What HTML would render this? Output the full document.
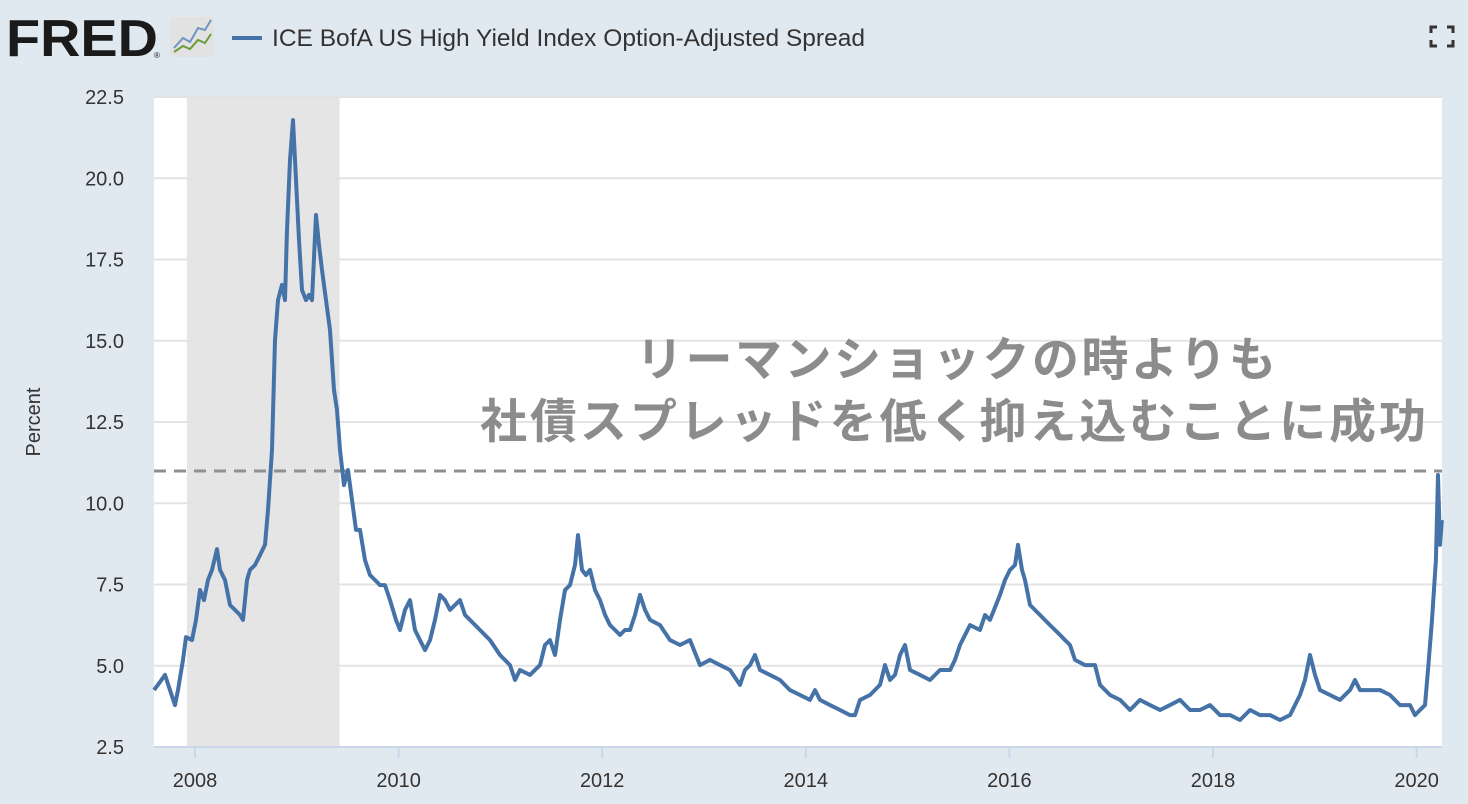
<!DOCTYPE html>
<html><head><meta charset="utf-8">
<style>
body{margin:0;width:1468px;height:804px;background:#e1e9f0;overflow:hidden;font-family:"Liberation Sans","Noto Sans CJK JP",sans-serif;}
svg{position:absolute;left:0;top:0}
</style></head>
<body>
<svg width="1468" height="804">
  <g>
    <text x="6" y="56" font-family="Liberation Sans, sans-serif" font-weight="bold" font-size="52" fill="#1a1a1a" textLength="152" lengthAdjust="spacingAndGlyphs">FRED</text>
    <text x="154" y="58" font-size="8" fill="#1a1a1a">®</text>
    <rect x="170" y="17" width="44" height="40" rx="4" fill="#e2e2e2"/>
    <polyline points="174,48 183,38 190,42 198,28 205,30 211,20" fill="none" stroke="#6d95c0" stroke-width="2"/>
    <polyline points="174,52 183,46 190,49 198,40 205,43 211,34" fill="none" stroke="#6a9a3a" stroke-width="2"/>
  </g>
  <g>
    <line x1="232" y1="38" x2="262" y2="38" stroke="#4572a7" stroke-width="4"/>
    <text x="272" y="46" font-size="24" fill="#333" textLength="593" lengthAdjust="spacingAndGlyphs">ICE BofA US High Yield Index Option-Adjusted Spread</text>
  </g>
  <g stroke="#333" stroke-width="3" fill="none">
    <polyline points="1431,33 1431,27 1437,27"/><polyline points="1447,27 1453,27 1453,33"/>
    <polyline points="1431,40 1431,46 1437,46"/><polyline points="1447,46 1453,46 1453,40"/>
  </g>
  <rect x="154" y="96" width="1288" height="651" fill="#fff"/>
  <g id="shade"></g>
  <g id="grid"></g>
  <g id="yticks"></g>
  <g id="xticks"></g>
  <text x="40" y="422" font-size="20" fill="#333" text-anchor="middle" transform="rotate(-90 40 422)">Percent</text>
  <line x1="154" y1="471" x2="1442" y2="471" stroke="#8f8f8f" stroke-width="3" stroke-dasharray="12,8"/>
  <path id="series" fill="none" stroke="#4572a7" stroke-width="4" stroke-linejoin="round"/>
  <g font-weight="bold" fill="#8c8c8c" font-size="47">
    <text x="636" y="376" textLength="640" lengthAdjust="spacing">リーマンショックの時よりも</text>
    <text x="480" y="438" textLength="946" lengthAdjust="spacing">社債スプレッドを低く抑え込むことに成功</text>
  </g>
</svg>
<script>
const years=[2007.597,2007.656,2007.705,2007.754,2007.804,2007.833,2007.882,2007.912,2007.971,2008.01,2008.049,2008.088,2008.128,2008.167,2008.216,2008.246,2008.295,2008.344,2008.393,2008.442,2008.472,2008.511,2008.540,2008.589,2008.639,2008.688,2008.717,2008.756,2008.786,2008.815,2008.855,2008.884,2008.904,2008.933,2008.963,2008.992,2009.022,2009.051,2009.090,2009.120,2009.149,2009.189,2009.218,2009.248,2009.287,2009.326,2009.365,2009.395,2009.424,2009.464,2009.503,2009.542,2009.582,2009.621,2009.670,2009.719,2009.768,2009.817,2009.866,2009.916,2009.974,2010.014,2010.063,2010.112,2010.161,2010.210,2010.259,2010.308,2010.358,2010.407,2010.456,2010.505,2010.554,2010.603,2010.652,2010.701,2010.800,2010.898,2010.996,2011.094,2011.143,2011.193,2011.291,2011.389,2011.438,2011.487,2011.536,2011.585,2011.635,2011.684,2011.733,2011.762,2011.802,2011.841,2011.880,2011.929,2011.978,2012.028,2012.077,2012.126,2012.175,2012.224,2012.273,2012.322,2012.371,2012.420,2012.470,2012.568,2012.666,2012.764,2012.862,2012.961,2013.059,2013.157,2013.255,2013.354,2013.403,2013.452,2013.501,2013.550,2013.648,2013.747,2013.845,2013.943,2014.041,2014.090,2014.139,2014.238,2014.336,2014.434,2014.483,2014.532,2014.631,2014.729,2014.778,2014.827,2014.876,2014.925,2014.974,2015.024,2015.122,2015.220,2015.318,2015.417,2015.466,2015.515,2015.613,2015.711,2015.760,2015.809,2015.908,2015.957,2016.006,2016.055,2016.084,2016.124,2016.153,2016.202,2016.301,2016.399,2016.448,2016.497,2016.546,2016.595,2016.644,2016.743,2016.841,2016.890,2016.988,2017.087,2017.185,2017.283,2017.381,2017.480,2017.578,2017.676,2017.774,2017.872,2017.971,2018.069,2018.167,2018.265,2018.364,2018.462,2018.560,2018.658,2018.756,2018.855,2018.904,2018.953,2019.002,2019.051,2019.149,2019.248,2019.346,2019.395,2019.444,2019.542,2019.641,2019.739,2019.837,2019.935,2019.984,2020.033,2020.083,2020.112,2020.151,2020.190,2020.210,2020.230,2020.249];
const spreads=[4.25,4.5,4.72,4.25,3.79,4.25,5.18,5.88,5.79,6.41,7.33,7.02,7.64,7.95,8.59,7.95,7.64,6.87,6.72,6.56,6.41,7.64,7.95,8.1,8.41,8.72,9.79,11.64,15.02,16.25,16.72,16.25,18.41,20.56,21.79,19.95,18.1,16.56,16.25,16.41,16.25,18.87,17.95,17.18,16.25,15.33,13.48,12.87,11.64,10.56,11.02,10.1,9.18,9.18,8.25,7.79,7.64,7.48,7.48,7.02,6.41,6.1,6.72,7.02,6.1,5.79,5.48,5.79,6.41,7.18,7.02,6.72,6.87,7.02,6.56,6.41,6.1,5.79,5.33,5.02,4.56,4.87,4.72,5.02,5.64,5.79,5.33,6.41,7.33,7.48,8.1,9.02,7.95,7.79,7.95,7.33,7.02,6.56,6.25,6.1,5.95,6.1,6.1,6.56,7.18,6.72,6.41,6.25,5.79,5.64,5.79,5.02,5.18,5.02,4.87,4.41,4.87,5.02,5.33,4.87,4.72,4.56,4.25,4.1,3.95,4.25,3.95,3.79,3.64,3.48,3.48,3.95,4.1,4.41,5.02,4.56,4.72,5.33,5.64,4.87,4.72,4.56,4.87,4.87,5.18,5.64,6.25,6.1,6.56,6.41,7.18,7.64,7.95,8.1,8.72,7.95,7.64,6.87,6.56,6.25,6.1,5.95,5.79,5.64,5.18,5.02,5.02,4.41,4.1,3.95,3.64,3.95,3.79,3.64,3.79,3.95,3.64,3.64,3.79,3.48,3.48,3.33,3.64,3.48,3.48,3.33,3.48,4.1,4.56,5.33,4.72,4.25,4.1,3.95,4.25,4.56,4.25,4.25,4.25,4.1,3.79,3.79,3.48,3.64,3.79,4.87,6.41,8.25,10.87,8.72,9.48];
const yTickValues=[2.5,5,7.5,10,12.5,15,17.5,20,22.5];
const yTickLabels=["2.5","5.0","7.5","10.0","12.5","15.0","17.5","20.0","22.5"];
const xTickValues=[2008,2010,2012,2014,2016,2018,2020];
const xTickLabels=["2008","2010","2012","2014","2016","2018","2020"];
const recessionStart=[2007.92];
const recessionEnd=[2009.42];

const NS="http://www.w3.org/2000/svg";
const xS=y=>195+(y-2008)*101.8;
const yS=v=>747-(v-2.5)*32.5;
function mk(tag,attrs,parent){const e=document.createElementNS(NS,tag);for(const k in attrs)e.setAttribute(k,attrs[k]);parent.appendChild(e);return e;}

const shade=document.getElementById('shade');
recessionStart.forEach((s,i)=>{
  const r=mk('rect',{x:xS(s),y:96,width:xS(recessionEnd[i])-xS(s),height:651,fill:'#e5e5e5'},shade);
  
  
});
const grid=document.getElementById('grid'),yt=document.getElementById('yticks'),xt=document.getElementById('xticks');
yTickValues.forEach((v,i)=>{
  if(v>2.5){const l=mk('line',{x1:154,x2:1442,y1:yS(v),y2:yS(v),stroke:'#e3e3e3','stroke-width':2},grid);
  
  }
  const t=mk('text',{x:124,y:yS(v)+7,'text-anchor':'end','font-size':20,fill:'#333'},yt);
  t.textContent=yTickLabels[i];
  
  
});
const ax=mk('line',{x1:154,x2:1442,y1:747,y2:747,stroke:'#ccd6eb','stroke-width':2},xt);


xTickValues.forEach((v,i)=>{
  const tk=mk('line',{x1:xS(v),x2:xS(v),y1:747,y2:758,stroke:'#ccd6eb','stroke-width':2},xt);
  
  
  const t=mk('text',{x:xS(v),y:787,'text-anchor':'middle','font-size':20,fill:'#333'},xt);
  t.textContent=xTickLabels[i];
  
  
});
document.getElementById('series').setAttribute('d',years.map((y,i)=>(i?'L':'M')+xS(y).toFixed(1)+','+yS(spreads[i]).toFixed(1)).join(''));
</script>
</body></html>
